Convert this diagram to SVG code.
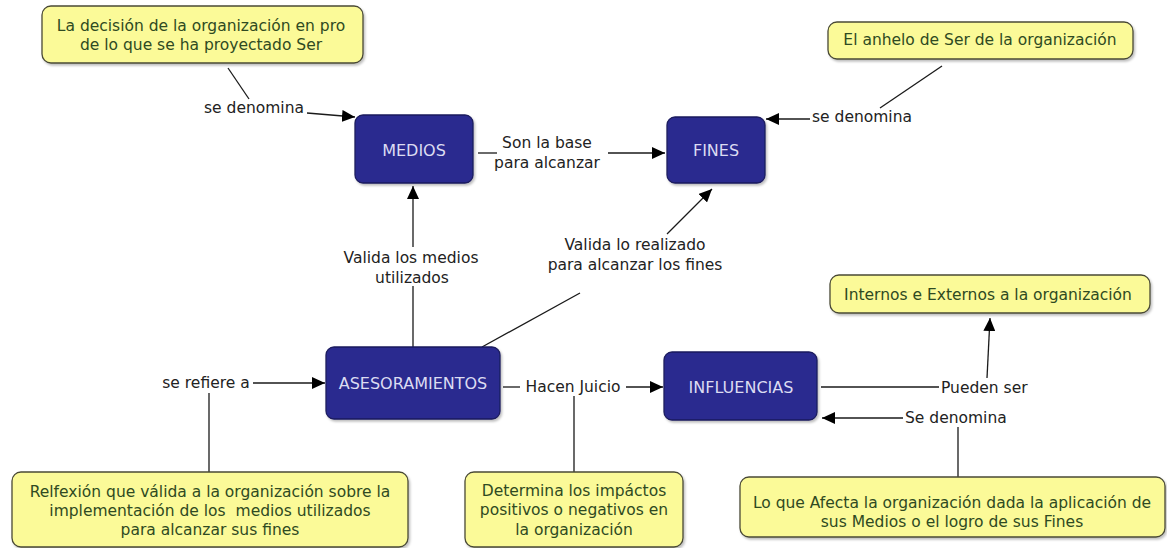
<svg xmlns="http://www.w3.org/2000/svg" width="1167" height="548" viewBox="0 0 1167 548">
<style>
.note rect{fill:#fbfa98;stroke:#4a4a36;stroke-width:1.3}
.note text{font-family:"DejaVu Sans",Verdana,sans-serif;font-size:15.5px;fill:#2f4a22;text-anchor:middle;white-space:pre}
.concept rect{fill:#2b2c8f;stroke:#1b1b5e;stroke-width:1.3}
.concept text{font-family:"DejaVu Sans",Verdana,sans-serif;font-size:16px;fill:#dcdcf2;text-anchor:middle}
.lbl{font-family:"DejaVu Sans",Verdana,sans-serif;font-size:15.5px;fill:#222}
.mid{text-anchor:middle}
#connectors line{stroke:#1a1a1a;stroke-width:1.3}
.arr{marker-end:url(#ah)}
</style>
<defs>
<marker id="ah" markerUnits="userSpaceOnUse" markerWidth="14" markerHeight="12" refX="13" refY="6" orient="auto">
<path d="M0,0 L13,6 L0,12 Z" fill="#000"/>
</marker>
<filter id="sh" x="-10%" y="-10%" width="120%" height="130%">
<feDropShadow dx="1.5" dy="2" stdDeviation="1.2" flood-color="#000" flood-opacity="0.25"/>
</filter>
</defs>
<rect width="1167" height="548" fill="#fff"/>
<g id="connectors">
<line x1="228" y1="68" x2="249" y2="99"/>
<line class="arr" x1="307" y1="113" x2="355" y2="117"/>
<line x1="478" y1="153" x2="497" y2="153"/>
<line class="arr" x1="608" y1="153" x2="665" y2="153"/>
<line x1="942" y1="66" x2="880" y2="108"/>
<line class="arr" x1="810" y1="119" x2="766" y2="119"/>
<line x1="413" y1="347" x2="413" y2="286"/>
<line class="arr" x1="413" y1="247" x2="413" y2="186"/>
<line x1="482" y1="347" x2="580" y2="293"/>
<line class="arr" x1="667" y1="234" x2="712" y2="189"/>
<line x1="209" y1="472" x2="209" y2="393"/>
<line class="arr" x1="253" y1="383" x2="325" y2="383"/>
<line x1="503" y1="387" x2="520" y2="387"/>
<line class="arr" x1="626" y1="387" x2="663" y2="387"/>
<line x1="574" y1="472" x2="574" y2="396"/>
<line x1="821" y1="387" x2="939" y2="387"/>
<line class="arr" x1="987" y1="378" x2="990" y2="318"/>
<line x1="958" y1="477" x2="958" y2="427"/>
<line class="arr" x1="903" y1="418" x2="822" y2="418"/>
<text class="lbl mid" x="254" y="113">se denomina</text>
<text class="lbl mid" x="547" y="148">Son la base</text>
<text class="lbl mid" x="547" y="168">para alcanzar</text>
<text class="lbl" x="812" y="122">se denomina</text>
<text class="lbl mid" x="411" y="263">Valida los medios</text>
<text class="lbl mid" x="412" y="283">utilizados</text>
<text class="lbl mid" x="635" y="250">Valida lo realizado</text>
<text class="lbl mid" x="635" y="270">para alcanzar los fines</text>
<text class="lbl mid" x="206" y="388">se refiere a</text>
<text class="lbl mid" x="573" y="392">Hacen Juicio</text>
<text class="lbl" x="941" y="393">Pueden ser</text>
<text class="lbl" x="905" y="423">Se denomina</text>
</g>
<g id="note-decision" class="note">
<rect x="42" y="6" width="321" height="57" rx="9" filter="url(#sh)"/>
<text x="201" y="31">La decisión de la organización en pro</text>
<text x="201" y="50">de lo que se ha proyectado Ser</text>
</g>
<g id="note-anhelo" class="note">
<rect x="828" y="22" width="305" height="37" rx="9" filter="url(#sh)"/>
<text x="980" y="45">El anhelo de Ser de la organización</text>
</g>
<g id="medios" class="concept">
<rect x="355" y="115" width="118" height="68" rx="8" filter="url(#sh)"/>
<text x="414" y="156">MEDIOS</text>
</g>
<g id="fines" class="concept">
<rect x="667" y="117" width="98" height="66" rx="8" filter="url(#sh)"/>
<text x="716" y="156">FINES</text>
</g>
<g id="asesoramientos" class="concept">
<rect x="326" y="347" width="174" height="72" rx="8" filter="url(#sh)"/>
<text x="413" y="389">ASESORAMIENTOS</text>
</g>
<g id="influencias" class="concept">
<rect x="664" y="352" width="153" height="68" rx="8" filter="url(#sh)"/>
<text x="741" y="393">INFLUENCIAS</text>
</g>
<g id="note-internos" class="note">
<rect x="830" y="275" width="320" height="38" rx="9" filter="url(#sh)"/>
<text x="988" y="300">Internos e Externos a la organización</text>
</g>
<g id="note-reflexion" class="note">
<rect x="12" y="472" width="396" height="75" rx="9" filter="url(#sh)"/>
<text x="210" y="497">Relfexión que válida a la organización sobre la</text>
<text x="210" y="516" xml:space="preserve">implementación de los  medios utilizados</text>
<text x="210" y="535">para alcanzar sus fines</text>
</g>
<g id="note-determina" class="note">
<rect x="465" y="472" width="218" height="75" rx="9" filter="url(#sh)"/>
<text x="574" y="496">Determina los impáctos</text>
<text x="574" y="515">positivos o negativos en</text>
<text x="574" y="535">la organización</text>
</g>
<g id="note-afecta" class="note">
<rect x="740" y="477" width="425" height="60" rx="9" filter="url(#sh)"/>
<text x="952" y="508">Lo que Afecta la organización dada la aplicación de</text>
<text x="952" y="527">sus Medios o el logro de sus Fines</text>
</g>
</svg>
